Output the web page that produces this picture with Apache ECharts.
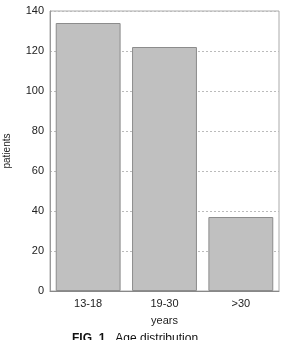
<!DOCTYPE html>
<html><head><meta charset="utf-8">
<script src="https://cdn.jsdelivr.net/npm/echarts@6/dist/echarts.min.js"></script>
<style>html,body{margin:0;padding:0;background:#fff}#c{width:285px;height:340px}</style>
</head><body><div id="c"></div>
<script>
var categories = ['13-18', '19-30', '>30'];
var patients = [134, 122, 37];
var yTicks = [0, 20, 40, 60, 80, 100, 120, 140];

var chart = echarts.init(document.getElementById('c'), null, {renderer: 'canvas'});
chart.setOption({
  animation: false,
  backgroundColor: '#fff',
  title: {
    text: '{b|FIG. 1.}  Age distribution',
    left: 72, top: 333, padding: 0,
    textStyle: {
      fontFamily: 'Liberation Sans', fontSize: 12, fontWeight: 'normal', color: '#111',
      rich: { b: { fontFamily: 'Liberation Sans', fontSize: 12, fontWeight: 'bold', color: '#111' } }
    }
  },
  grid: {
    left: 50, top: 11, right: 6, bottom: 49,
    containLabel: false, outerBoundsMode: 'none',
    show: true, borderColor: '#aaa', borderWidth: 1, backgroundColor: '#fff'
  },
  xAxis: {
    type: 'category', data: categories,
    name: 'years', nameLocation: 'middle', nameGap: 24,
    nameTextStyle: { fontFamily: 'Liberation Sans', fontSize: 11, color: '#222' },
    axisLine: { lineStyle: { color: '#888' } },
    axisTick: { show: false },
    axisLabel: { fontFamily: 'Liberation Sans', fontSize: 11, color: '#222', margin: 7 }
  },
  yAxis: {
    type: 'value', min: yTicks[0], max: yTicks[yTicks.length - 1], interval: 20,
    name: 'patients', nameLocation: 'middle', nameGap: 38, nameRotate: 90,
    nameTextStyle: { fontFamily: 'Liberation Sans', fontSize: 10, color: '#222' },
    axisLine: { show: true, lineStyle: { color: '#999' } },
    axisTick: { show: false },
    axisLabel: { fontFamily: 'Liberation Sans', fontSize: 11, color: '#222', margin: 6 },
    splitLine: { show: true, lineStyle: { color: '#bbb', type: [2, 2], width: 1 } }
  },
  series: [{
    type: 'bar', data: patients, barCategoryGap: '15%',
    itemStyle: { color: '#c0c0c0', borderColor: '#8c8c8c', borderWidth: 1 }
  }]
});
</script></body></html>
